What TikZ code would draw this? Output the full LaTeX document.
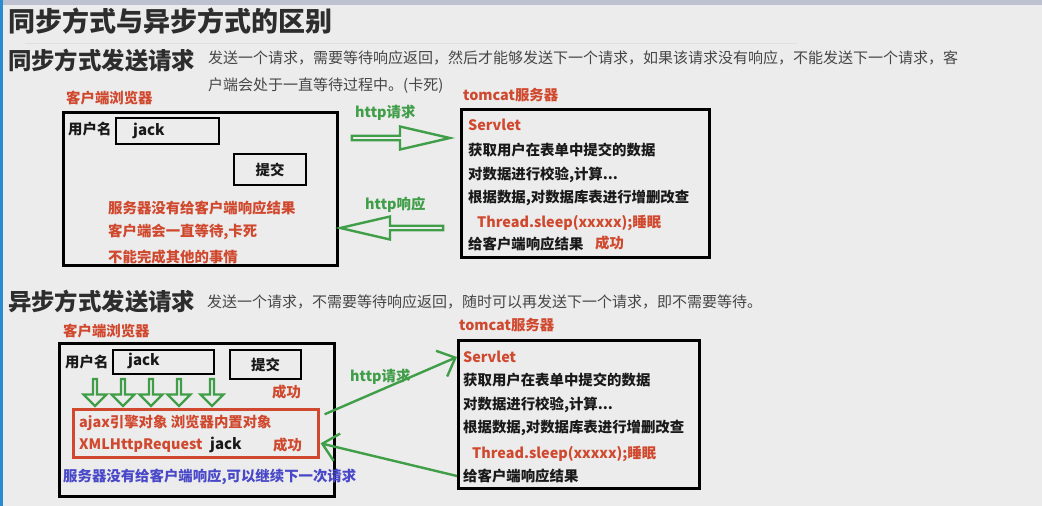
\documentclass[tikz,border=0pt]{standalone}
\usepackage{fontspec}
\setmainfont{Noto Sans CJK SC}
\usepackage{tikz}
\usetikzlibrary{positioning,arrows.meta,shapes.arrows}
\definecolor{pagebg}{RGB}{236,236,236}
\definecolor{topband}{RGB}{190,194,208}
\definecolor{leftband}{RGB}{40,140,210}
\definecolor{headc}{RGB}{45,45,45}
\definecolor{descc}{RGB}{70,70,70}
\definecolor{redc}{RGB}{208,72,46}
\definecolor{greenc}{RGB}{64,158,72}
\definecolor{bluec}{RGB}{72,72,200}
\tikzset{
  frame/.style={draw=black,line width=2.6pt,anchor=north west,inner sep=0pt},
  inbox/.style={draw=black,line width=2.2pt,anchor=north west,inner sep=0pt},
  lbl/.style={anchor=west,inner sep=0pt,font=\bfseries\fontsize{14.4}{16}\selectfont,text=black!90},
  jacklbl/.style={lbl,font=\bfseries\fontsize{15}{17}\selectfont},
  redlbl/.style={lbl,text=redc},
  greenlbl/.style={lbl,text=greenc},
  bluelbl/.style={lbl,text=bluec},
  desc/.style={anchor=west,inner sep=0pt,font=\fontsize{15}{18}\selectfont,text=descc},
  heading/.style={anchor=west,inner sep=0pt,font=\bfseries\fontsize{23.4}{26}\selectfont,text=headc},
  blockarrow/.style={single arrow,draw=greenc,line width=2.4pt,inner sep=0pt,
    minimum width=23pt,single arrow head extend=5pt,single arrow tip angle=26},
  downarrow/.style={single arrow,draw=greenc,line width=2.2pt,inner sep=0pt,
    minimum width=23pt,minimum height=27pt,single arrow head extend=5.5pt,
    single arrow tip angle=90,shape border rotate=270},
  flowarrow/.style={greenc,line width=2.4pt,-{Straight Barb[length=15pt,width=28pt]}}
}
\begin{document}
\begin{tikzpicture}[x=1pt,y=-1pt]
\useasboundingbox (0,0) rectangle (1042,506);
% page
\fill[pagebg] (0,0) rectangle (1042,506);
\fill[topband] (0,0) rectangle (1042,5);
\fill[leftband] (0,0) rectangle (3,506);
\draw[black!12,line width=1pt] (25,43) -- (797,43);
\node[heading,font=\bfseries\fontsize{27}{30}\selectfont] (title) at (8,21) {同步方式与异步方式的区别};
% synchronous request
\node[heading] (synchead) at (8,61) {同步方式发送请求};
\node[desc] (syncdesc) at (208,58) {发送一个请求，需要等待响应返回，然后才能够发送下一个请求，如果该请求没有响应，不能发送下一个请求，客};
\node[desc] (syncdesc2) at (208,86) {户端会处于一直等待过程中。(卡死)};
\node[redlbl] (sclientlbl) at (66,98) {客户端浏览器};
\node[frame,minimum width=274pt,minimum height=153pt] (sclient) at (62,111) {};
\node[lbl] (suser) at (68,129) {用户名};
\node[inbox,minimum width=103pt,minimum height=26pt] (sinput) at (115,117) {};
\node[jacklbl] (sjack) at (133,131) {jack};
\node[inbox,minimum width=72pt,minimum height=31pt] (ssubmit) at (233,153) {};
\node[lbl,anchor=center] (ssubmittxt) at (ssubmit) {提交};
\node[redlbl] (swait1) at (108,208) {服务器没有给客户端响应结果};
\node[redlbl] (swait2) at (108,232) {客户端会一直等待,卡死};
\node[redlbl] (swait3) at (108,257) {不能完成其他的事情};
\node[blockarrow,minimum height=98pt] (sreq) at (396,138) {};
\node[greenlbl] (sreqlbl) at (355,113) {http请求};
\node[blockarrow,minimum height=103pt,shape border rotate=180] (sresp) at (396.5,228) {};
\node[greenlbl] (sresplbl) at (365,205) {http响应};
\node[redlbl] (sserverlbl) at (463,95) {tomcat服务器};
\node[frame,minimum width=248pt,minimum height=148pt] (sserver) at (460,108) {};
\node[redlbl] (sservlet) at (468,125) {Servlet};
\node[lbl] (sget) at (468,150) {获取用户在表单中提交的数据};
\node[lbl] (scheck) at (468,175) {对数据进行校验,计算...};
\node[lbl] (scrud) at (468,198) {根据数据,对数据库表进行增删改查};
\node[redlbl] (ssleep) at (477,223) {Thread.sleep(xxxxx);睡眠};
\node[lbl] (sreply) at (468,244) {给客户端响应结果};
\node[redlbl] (sok) at (595,243) {成功};
% asynchronous request
\node[heading] (asynchead) at (8,302) {异步方式发送请求};
\node[desc] (asyncdesc) at (207,302) {发送一个请求，不需要等待响应返回，随时可以再发送下一个请求，即不需要等待。};
\node[redlbl] (aclientlbl) at (63,331) {客户端浏览器};
\node[frame,minimum width=275pt,minimum height=153pt] (aclient) at (58,342) {};
\node[lbl] (auser) at (65,362) {用户名};
\node[inbox,minimum width=101pt,minimum height=24pt] (ainput) at (112,349) {};
\node[jacklbl] (ajack) at (128,361) {jack};
\node[inbox,minimum width=71pt,minimum height=29pt] (asubmit) at (229,349) {};
\node[lbl,anchor=center] (asubmittxt) at (asubmit) {提交};
\foreach \x [count=\i] in {95,123,151,179,212}
  \node[downarrow] (adown\i) at (\x,391.5) {};
\node[redlbl] (aok1) at (272,392) {成功};
\node[draw=redc,line width=2.6pt,anchor=north west,inner sep=0pt,minimum width=245pt,minimum height=48pt] (ajax) at (72,408) {};
\node[redlbl] (ajaxtxt) at (79,423) {ajax引擎对象 浏览器内置对象};
\node[redlbl] (axhr) at (79,446) {XMLHttpRequest};
\node[jacklbl] (ajack2) at (210,445) {jack};
\node[redlbl] (aok2) at (273,445) {成功};
\node[bluelbl] (anote) at (63,477) {服务器没有给客户端响应,可以继续下一次请求};
\node[redlbl] (aserverlbl) at (459,325) {tomcat服务器};
\node[frame,minimum width=241pt,minimum height=148pt] (aserver) at (457,339) {};
\node[redlbl] (aservlet) at (463,357) {Servlet};
\node[lbl] (aget) at (463,380) {获取用户在表单中提交的数据};
\node[lbl] (acheck) at (463,405) {对数据进行校验,计算...};
\node[lbl] (acrud) at (463,428) {根据数据,对数据库表进行增删改查};
\node[redlbl] (asleep) at (472,454) {Thread.sleep(xxxxx);睡眠};
\node[lbl] (areply) at (463,476) {给客户端响应结果};
\node[greenlbl] (areqlbl) at (350,377) {http请求};
\draw[flowarrow] ([xshift=5pt,yshift=19pt]ajax.east) -- ([xshift=-6pt]aservlet.west);
\draw[flowarrow] ([xshift=-6pt]areply.west) -- ([xshift=1pt,yshift=-10pt]ajax.east);
\end{tikzpicture}
\end{document}
